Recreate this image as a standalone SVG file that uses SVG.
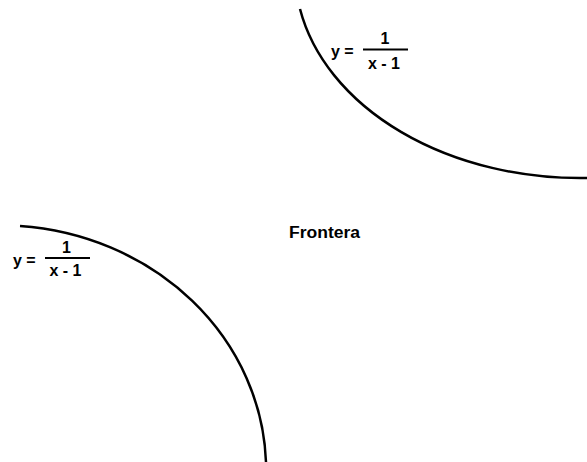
<svg xmlns="http://www.w3.org/2000/svg" width="587" height="462" viewBox="0 0 587 462">
<style>
.t{font-family:"Liberation Sans",Arial,sans-serif;font-weight:bold;font-size:16px;fill:#000}
.m{text-anchor:middle}
.c{fill:none;stroke:#000;stroke-width:2.5}
.b{stroke:#000;stroke-width:2}
</style>
<rect width="587" height="462" fill="#fff"/>
<g id="connectors">
<path id="curve-top" class="c" d="M300,9 A285.3,208 0 0 0 588,178"/>
<path id="curve-bottom" class="c" d="M20,226 A266,245 0 0 1 266,462"/>
</g>
<g id="label-top">
<text class="t" x="331" y="57">y =</text>
<text class="t m" x="385" y="43.5">1</text>
<line class="b" x1="363" y1="49.5" x2="408" y2="49.5"/>
<text class="t m" x="384" y="68.5">x - 1</text>
</g>
<g id="label-bottom">
<text class="t" x="13" y="266">y =</text>
<text class="t m" x="66.5" y="252.5">1</text>
<line class="b" x1="45" y1="258" x2="90" y2="258"/>
<text class="t m" x="65.5" y="276">x - 1</text>
</g>
<g id="frontera">
<text class="t" x="289" y="237.5" textLength="71" lengthAdjust="spacingAndGlyphs">Frontera</text>
</g>
</svg>
